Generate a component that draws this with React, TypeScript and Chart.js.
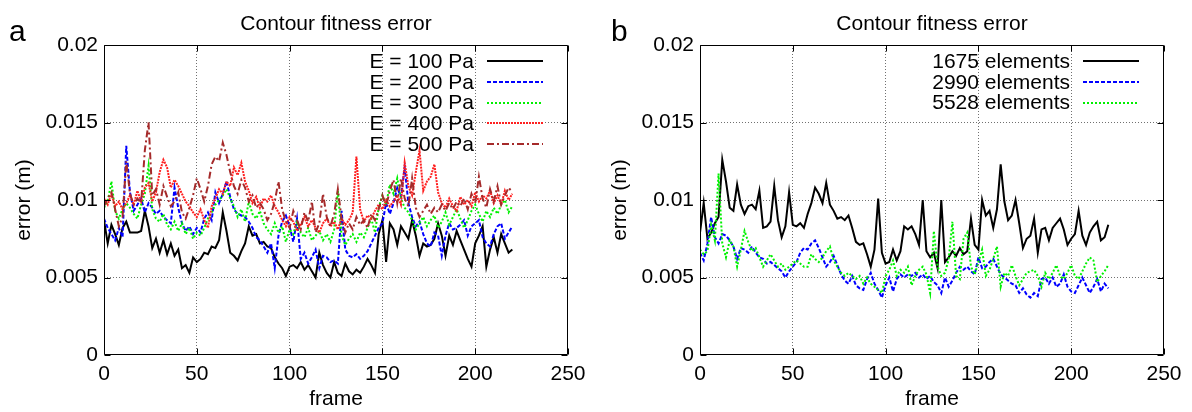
import React, { useEffect, useRef } from "react";
import { Chart, registerables } from "chart.js";

Chart.register(...registerables);

// ---------- data ----------
const FRAMES = [
  0, 2, 4, 6, 8, 10, 12, 14, 16, 18,
  20, 22, 24, 26, 28, 30, 32, 34, 36, 38,
  40, 42, 44, 46, 48, 50, 52, 54, 56, 58,
  60, 62, 64, 66, 68, 70, 72, 74, 76, 78,
  80, 82, 84, 86, 88, 90, 92, 94, 96, 98,
  100, 102, 104, 106, 108, 110, 112, 114, 116, 118,
  120, 122, 124, 126, 128, 130, 132, 134, 136, 138,
  140, 142, 144, 146, 148, 150, 152, 154, 156, 158,
  160, 162, 164, 166, 168, 170, 172, 174, 176, 178,
  180, 182, 184, 186, 188, 190, 192, 194, 196, 198,
  200, 202, 204, 206, 208, 210, 212, 214, 216, 218,
  220,
];

const E100 = [
  0.0087, 0.0072, 0.0084, 0.0078, 0.0071, 0.0082, 0.0086, 0.0079, 0.0079, 0.0079,
  0.008, 0.0093, 0.0083, 0.0069, 0.0075, 0.0066, 0.0074, 0.0065, 0.0072, 0.0064,
  0.0068, 0.0056, 0.0058, 0.0053, 0.0063, 0.006, 0.0062, 0.0066, 0.0065, 0.007,
  0.0069, 0.0074, 0.0092, 0.008, 0.0066, 0.0064, 0.0061, 0.0067, 0.0072, 0.0083,
  0.0077, 0.0078, 0.0072, 0.0073, 0.007, 0.0069, 0.0063, 0.0059, 0.0056, 0.0051,
  0.0057, 0.0058, 0.0056, 0.006, 0.0055, 0.0058, 0.0054, 0.005, 0.0066, 0.0058,
  0.0053, 0.005, 0.006, 0.0053, 0.0051, 0.0059, 0.0054, 0.0052, 0.0055, 0.0053,
  0.0057, 0.0062, 0.0058, 0.0053, 0.0078, 0.0087, 0.006, 0.0085, 0.0081, 0.0071,
  0.0083, 0.0079, 0.0075, 0.0087, 0.0077, 0.0064, 0.0072, 0.007, 0.0071, 0.0075,
  0.0085, 0.0077, 0.0064, 0.0077, 0.0071, 0.008, 0.0074, 0.0068, 0.0062, 0.0057,
  0.0072, 0.0077, 0.0083, 0.0057, 0.0068, 0.0076, 0.0066, 0.0078, 0.0072, 0.0066,
  0.0068,
];

const E200 = [
  0.0088, 0.0082, 0.0078, 0.0074, 0.0082, 0.0076, 0.0135, 0.0105, 0.0093, 0.0097,
  0.0101, 0.0092, 0.0098, 0.0095, 0.0091, 0.0093, 0.0089, 0.0087, 0.0085, 0.0108,
  0.0095, 0.0085, 0.008, 0.0083, 0.0078, 0.0082, 0.0079, 0.0088, 0.0092, 0.0087,
  0.0105, 0.0098, 0.0104, 0.0112, 0.0102, 0.0094, 0.0091, 0.009, 0.0089, 0.0086,
  0.0082, 0.0076, 0.0074, 0.007, 0.0066, 0.0072, 0.0056, 0.0077, 0.0086, 0.009,
  0.0083, 0.0073, 0.0088, 0.0062, 0.0066, 0.0059, 0.0063, 0.0068, 0.0056, 0.0064,
  0.0063, 0.006, 0.0061, 0.0059, 0.0093, 0.0068, 0.0064, 0.0063, 0.0065, 0.0062,
  0.0064, 0.0067, 0.0072, 0.0077, 0.0082, 0.0085, 0.0098, 0.0091, 0.0098, 0.0108,
  0.0102, 0.0121, 0.0098, 0.0089, 0.0083, 0.0086, 0.0078, 0.0072, 0.007, 0.0079,
  0.0077, 0.0064, 0.0077, 0.0085, 0.0081, 0.0082, 0.0084, 0.0087, 0.0077, 0.0083,
  0.0085, 0.0087, 0.0076, 0.0072, 0.007, 0.0078, 0.0083, 0.0085, 0.0075, 0.0079,
  0.0083,
];

const E300 = [
  0.0095, 0.0099, 0.0112, 0.0093, 0.0088, 0.0094, 0.0098, 0.0095, 0.0091, 0.0088,
  0.0097, 0.0104, 0.0122, 0.0094, 0.0088, 0.0086, 0.0091, 0.0084, 0.0081, 0.0086,
  0.008, 0.0085, 0.0078, 0.0082, 0.0075, 0.0079, 0.0077, 0.0082, 0.0088, 0.0092,
  0.0097, 0.01, 0.0103, 0.0107, 0.0101, 0.0096, 0.0089, 0.0094, 0.0086, 0.0099,
  0.0091, 0.0088, 0.0093, 0.0085, 0.0081, 0.0078, 0.0085, 0.0079, 0.0083, 0.0073,
  0.0081, 0.0078, 0.0086, 0.0079, 0.0076, 0.0082, 0.0074, 0.0077, 0.008, 0.0074,
  0.0078, 0.0073, 0.0081, 0.0106, 0.0077, 0.0071, 0.0075, 0.0078, 0.0073, 0.0079,
  0.0076, 0.0082, 0.0088, 0.0079, 0.0095, 0.0103, 0.0097, 0.011, 0.0104, 0.0114,
  0.0101, 0.0095, 0.0092, 0.0087, 0.0081, 0.0085, 0.0089, 0.0083, 0.0087, 0.009,
  0.0082, 0.0086, 0.0092, 0.0084, 0.0089, 0.0094, 0.0088, 0.0082, 0.0087, 0.0093,
  0.0097, 0.0091, 0.0086, 0.0093, 0.0089, 0.0095, 0.0091, 0.0097, 0.01, 0.0092,
  0.0096,
];

const E400 = [
  0.0101, 0.0097, 0.0104, 0.0096, 0.0099, 0.0094, 0.0098, 0.0103, 0.0097, 0.0106,
  0.0099, 0.0108, 0.0111, 0.0099, 0.0105, 0.0118, 0.0126, 0.0121, 0.0108, 0.0113,
  0.0109, 0.0104, 0.0099, 0.0096, 0.0092, 0.0089, 0.0094, 0.0087, 0.0082, 0.0096,
  0.0101, 0.0107, 0.0104, 0.0112, 0.0109, 0.0121, 0.0116, 0.0124, 0.0112, 0.0106,
  0.0098, 0.0102, 0.0095, 0.0101, 0.0099, 0.0103, 0.0096, 0.0092, 0.0087, 0.0083,
  0.0089, 0.0086, 0.008, 0.0084, 0.0089, 0.0083, 0.0087, 0.0082, 0.0079, 0.0085,
  0.0088, 0.0083, 0.0086, 0.0081, 0.0088, 0.0084, 0.0087, 0.0092, 0.0128, 0.0094,
  0.0086, 0.009, 0.0088, 0.0093, 0.0097, 0.0094, 0.01, 0.0096, 0.0099, 0.0103,
  0.0097, 0.0124, 0.0109, 0.0103, 0.0118, 0.0132, 0.0106, 0.0112, 0.0115, 0.0123,
  0.0105, 0.0098, 0.0095, 0.0101, 0.0096, 0.0093, 0.0102, 0.0097, 0.01, 0.0096,
  0.0105, 0.0099, 0.0103, 0.0101, 0.0106, 0.0098, 0.0103, 0.0097, 0.0106, 0.01,
  0.0104,
];

const E500 = [
  0.0096, 0.0101, 0.0105, 0.0094, 0.0083, 0.0089, 0.0125, 0.0104, 0.0097, 0.0101,
  0.0098, 0.0132, 0.015, 0.0103, 0.0107, 0.0097, 0.0109, 0.0102, 0.0096, 0.0099,
  0.0105, 0.0092, 0.0088, 0.0095, 0.0103, 0.0114, 0.0107, 0.0099, 0.0109, 0.0123,
  0.0128, 0.0125, 0.0137, 0.0129, 0.0118, 0.0109, 0.0104, 0.0113, 0.0108, 0.0099,
  0.0103, 0.0095, 0.0098, 0.0094, 0.0087, 0.0091, 0.0099, 0.0112, 0.0094, 0.0086,
  0.0082, 0.0093, 0.0087, 0.0081, 0.0092, 0.0086, 0.0099, 0.0079, 0.0085, 0.0104,
  0.0089, 0.0083, 0.0091, 0.0107, 0.0088, 0.0079, 0.0085, 0.0081, 0.0089, 0.0084,
  0.0087, 0.0082, 0.0091, 0.0087, 0.0094, 0.0103, 0.0096, 0.0106, 0.0113, 0.0098,
  0.0114, 0.0101, 0.0096, 0.0114, 0.0095, 0.0089, 0.0093, 0.0097, 0.0091, 0.0095,
  0.0092, 0.0097, 0.0093, 0.0098, 0.0094, 0.0099, 0.0096, 0.0101, 0.0094, 0.0104,
  0.0098, 0.0115, 0.0101, 0.0095, 0.0107, 0.0099, 0.0109, 0.0097, 0.0103, 0.0108,
  0.0105,
];

const EL1675 = [
  0.0079, 0.0098, 0.0075, 0.0079, 0.0085, 0.0089, 0.0126, 0.0112, 0.0095, 0.0093,
  0.011, 0.0097, 0.0091, 0.0096, 0.0097, 0.0094, 0.0106, 0.0082, 0.0083, 0.0086,
  0.0109, 0.0087, 0.0076, 0.0083, 0.0105, 0.0084, 0.0083, 0.0085, 0.0082, 0.0091,
  0.0098, 0.0108, 0.0104, 0.0098, 0.0111, 0.0097, 0.0093, 0.0088, 0.0089, 0.0087,
  0.009, 0.0082, 0.0073, 0.0071, 0.0072, 0.0065, 0.0057, 0.0068, 0.0101, 0.0066,
  0.0059, 0.006, 0.0068, 0.0061, 0.0067, 0.0083, 0.0081, 0.0083, 0.0078, 0.0071,
  0.01, 0.0067, 0.0063, 0.0066, 0.0056, 0.01, 0.006, 0.0063, 0.0067, 0.0064,
  0.0069, 0.0065, 0.0067, 0.0088, 0.0071, 0.0068, 0.01, 0.009, 0.0093, 0.0082,
  0.0094, 0.0123, 0.0099, 0.0087, 0.009, 0.01, 0.0085, 0.0069, 0.0075, 0.0077,
  0.0088, 0.0066, 0.0081, 0.0082, 0.0074, 0.0082, 0.0085, 0.0088, 0.0081, 0.0071,
  0.0075, 0.0078, 0.0093, 0.0077, 0.0071, 0.0079, 0.0083, 0.0086, 0.0074, 0.0076,
  0.0084,
];

const EL2990 = [
  0.0066, 0.0061, 0.0072, 0.0089, 0.0076, 0.0072, 0.0078, 0.0077, 0.0074, 0.007,
  0.0062, 0.0069, 0.0068, 0.0066, 0.007, 0.0066, 0.0063, 0.0062, 0.0059, 0.006,
  0.0058, 0.0056, 0.0054, 0.005, 0.0054, 0.0057, 0.006, 0.0066, 0.0069, 0.0068,
  0.0072, 0.0074, 0.0069, 0.0063, 0.0057, 0.006, 0.0064, 0.0058, 0.0052, 0.0048,
  0.0046, 0.0051, 0.0045, 0.0043, 0.0042, 0.0049, 0.0053, 0.0046, 0.0042, 0.0037,
  0.0045, 0.005, 0.0041, 0.0049, 0.0052, 0.005, 0.0052, 0.0051, 0.0053, 0.005,
  0.0052, 0.0049, 0.0051, 0.0047, 0.0045, 0.004, 0.005, 0.0044, 0.0048, 0.0053,
  0.0057, 0.0055, 0.0057, 0.0054, 0.0052, 0.0063, 0.0056, 0.0057, 0.006, 0.0062,
  0.0057, 0.0052, 0.005, 0.0048, 0.0046, 0.0045, 0.004, 0.0043, 0.0039, 0.0037,
  0.004, 0.0038, 0.0049, 0.005, 0.0046, 0.005, 0.0044, 0.0046, 0.0052, 0.0044,
  0.0041, 0.004, 0.0045, 0.005, 0.0045, 0.004, 0.0044, 0.0049, 0.0041, 0.0046,
  0.0043,
];

const EL5528 = [
  0.0068, 0.0065, 0.0067, 0.0084, 0.0074, 0.0117, 0.0072, 0.0063, 0.0074, 0.007,
  0.0057, 0.0068, 0.008, 0.0073, 0.0067, 0.0069, 0.0063, 0.0057, 0.0061, 0.0065,
  0.0061, 0.0057, 0.0059, 0.0055, 0.0057, 0.0059, 0.0061, 0.0059, 0.0057, 0.0057,
  0.0065, 0.0062, 0.006, 0.0063, 0.0067, 0.007, 0.0061, 0.0057, 0.0053, 0.0051,
  0.0053, 0.0051, 0.0049, 0.0051, 0.0046, 0.005, 0.0046, 0.0044, 0.0042, 0.004,
  0.0051, 0.0055, 0.0061, 0.0051, 0.0055, 0.0053, 0.0057, 0.0045, 0.0051, 0.0055,
  0.0057, 0.0052, 0.004, 0.008, 0.0057, 0.0051, 0.0053, 0.0062, 0.0086, 0.0051,
  0.0049, 0.0075, 0.0079, 0.0057, 0.0052, 0.006, 0.0068, 0.0051, 0.0055, 0.0062,
  0.007, 0.0044, 0.0053, 0.0051, 0.0058, 0.0051, 0.0045, 0.0049, 0.0053, 0.0054,
  0.0055, 0.0051, 0.0044, 0.0053, 0.0049, 0.0053, 0.0058, 0.0051, 0.0049, 0.0053,
  0.0058, 0.0051, 0.0049, 0.0054, 0.0059, 0.0063, 0.0061, 0.0047, 0.0051, 0.0054,
  0.0058,
];

const LABELS_A = ["E = 100 Pa", "E = 200 Pa", "E = 300 Pa", "E = 400 Pa", "E = 500 Pa"];
const LABELS_B = ["1675 elements", "2990 elements", "5528 elements"];
const X_TICKS = [0, 50, 100, 150, 200, 250];
const Y_TICKS = [0, 0.005, 0.01, 0.015, 0.02];
const Y_TICK_LABELS = ["0", "0.005", "0.01", "0.015", "0.02"];
const TITLE = "Contour fitness error";
const X_TITLE = "frame";
const Y_TITLE = "error (m)";

// ---------- styles ----------
const FONT = '"Liberation Sans", Arial, Helvetica, sans-serif';
const FS = 21;

type Series = { label: string; values: number[]; color: string; dash: number[]; width: number };

const SERIES_A: Series[] = [
  { label: LABELS_A[0], values: E100, color: "#000000", dash: [], width: 2 },
  { label: LABELS_A[1], values: E200, color: "#0000ff", dash: [4, 2], width: 2 },
  { label: LABELS_A[2], values: E300, color: "#00f000", dash: [2, 2], width: 2 },
  { label: LABELS_A[3], values: E400, color: "#ff2020", dash: [2, 1], width: 2 },
  { label: LABELS_A[4], values: E500, color: "#a52a2a", dash: [7, 3, 2, 3], width: 2 },
];

const SERIES_B: Series[] = [
  { label: LABELS_B[0], values: EL1675, color: "#000000", dash: [], width: 2 },
  { label: LABELS_B[1], values: EL2990, color: "#0000ff", dash: [4, 2], width: 2 },
  { label: LABELS_B[2], values: EL5528, color: "#00f000", dash: [2, 2], width: 2 },
];

function decorPlugin(letter: string, letterX: number, series: Series[]) {
  return {
    id: "decor",
    afterDatasetsDraw(chart: any) {
      const { ctx, chartArea: a } = chart;
      const xs = chart.scales.x;
      const ys = chart.scales.y;
      ctx.save();
      ctx.setLineDash([]);
      ctx.strokeStyle = "#000";
      ctx.lineWidth = 1;
      const L = Math.round(a.left) + 0.5;
      const R = Math.round(a.right) - 0.5;
      const T = Math.round(a.top) + 0.5;
      const B = Math.round(a.bottom) - 0.5;
      ctx.beginPath();
      ctx.rect(L, T, R - L, B - T);
      // inward ticks on all four sides
      for (const v of X_TICKS) {
        const px = Math.round(xs.getPixelForValue(v)) + 0.5;
        ctx.moveTo(px, B);
        ctx.lineTo(px, B - 6);
        ctx.moveTo(px, T);
        ctx.lineTo(px, T + 6);
      }
      for (const v of Y_TICKS) {
        const py = Math.round(ys.getPixelForValue(v)) + 0.5;
        ctx.moveTo(L, py);
        ctx.lineTo(L + 6, py);
        ctx.moveTo(R, py);
        ctx.lineTo(R - 6, py);
      }
      ctx.stroke();

      // legend (inside plot, gnuplot style)
      ctx.font = `${FS}px ${FONT}`;
      ctx.fillStyle = "#000";
      ctx.textAlign = "right";
      ctx.textBaseline = "middle";
      series.forEach((s, i) => {
        const y = a.top + 16 + i * 20.8;
        ctx.fillText(s.label, a.right - 94, y + 1);
        ctx.save();
        ctx.strokeStyle = s.color;
        ctx.lineWidth = s.width;
        ctx.setLineDash(s.dash);
        ctx.beginPath();
        ctx.moveTo(a.right - 81, Math.round(y));
        ctx.lineTo(a.right - 25, Math.round(y));
        ctx.stroke();
        ctx.restore();
      });

      // title
      ctx.textAlign = "center";
      ctx.textBaseline = "alphabetic";
      ctx.fillText(TITLE, (a.left + a.right) / 2, 30);
      // x title
      ctx.fillText(X_TITLE, (a.left + a.right) / 2, 405);
      // y title
      ctx.save();
      ctx.translate(24, (a.top + a.bottom) / 2);
      ctx.rotate(-Math.PI / 2);
      ctx.textBaseline = "middle";
      ctx.fillText(Y_TITLE, 0, 0);
      ctx.restore();
      // panel letter
      ctx.font = `30px ${FONT}`;
      ctx.textAlign = "left";
      ctx.fillText(letter, letterX, 41);
      ctx.restore();
    },
  };
}

function buildConfig(series: Series[], letter: string, letterX: number): any {
  const n = series.length;
  return {
    type: "line",
    data: {
      datasets: series.map((s, i) => ({
        label: s.label,
        data: FRAMES.map((f, k) => ({ x: f, y: s.values[k] })),
        borderColor: s.color,
        backgroundColor: s.color,
        borderWidth: s.width,
        borderDash: s.dash,
        pointRadius: 0,
        tension: 0,
        fill: false,
        order: n - i,
      })),
    },
    options: {
      animation: false,
      responsive: false,
      devicePixelRatio: 1,
      layout: { padding: { top: 45, right: 28, left: 0, bottom: 0 } },
      plugins: {
        legend: { display: false },
        title: { display: false },
        tooltip: { enabled: false },
      },
      scales: {
        x: {
          type: "linear",
          min: 0,
          max: 250,
          afterFit: (s: any) => {
            s.height = 57;
          },
          ticks: {
            stepSize: 50,
            color: "#000",
            padding: 7,
            maxRotation: 0,
            autoSkip: false,
            font: { family: FONT, size: FS },
            callback: (v: any) => String(v),
          },
          grid: {
            drawTicks: false,
            lineWidth: 1,
            color: (c: any) =>
              c.tick && (c.tick.value <= 0 || c.tick.value >= 250) ? "rgba(0,0,0,0)" : "#707070",
          },
          border: { display: false, dash: [1, 2] },
        },
        y: {
          type: "linear",
          min: 0,
          max: 0.02,
          afterFit: (s: any) => {
            s.width = 104;
          },
          ticks: {
            stepSize: 0.005,
            color: "#000",
            padding: 6,
            font: { family: FONT, size: FS },
            callback: (_v: any, i: number) => Y_TICK_LABELS[i],
          },
          grid: {
            drawTicks: false,
            lineWidth: 1,
            color: (c: any) =>
              c.tick && (c.tick.value <= 0 || c.tick.value >= 0.0199) ? "rgba(0,0,0,0)" : "#707070",
          },
          border: { display: false, dash: [1, 2] },
        },
      },
    },
    plugins: [decorPlugin(letter, letterX, series)],
  };
}

export default function App() {
  const refA = useRef<HTMLCanvasElement>(null);
  const refB = useRef<HTMLCanvasElement>(null);

  useEffect(() => {
    const ca = new Chart(refA.current as HTMLCanvasElement, buildConfig(SERIES_A, "a", 9));
    const cb = new Chart(refB.current as HTMLCanvasElement, buildConfig(SERIES_B, "b", 15));
    return () => {
      ca.destroy();
      cb.destroy();
    };
  }, []);

  return (
    <div
      style={{
        position: "absolute",
        left: 0,
        top: 0,
        width: 1192,
        height: 412,
        background: "#ffffff",
        overflow: "hidden",
      }}
    >
      <canvas
        ref={refA}
        width={596}
        height={412}
        style={{ position: "absolute", left: 0, top: 0, width: 596, height: 412 }}
      />
      <canvas
        ref={refB}
        width={596}
        height={412}
        style={{ position: "absolute", left: 596, top: 0, width: 596, height: 412 }}
      />
    </div>
  );
}
